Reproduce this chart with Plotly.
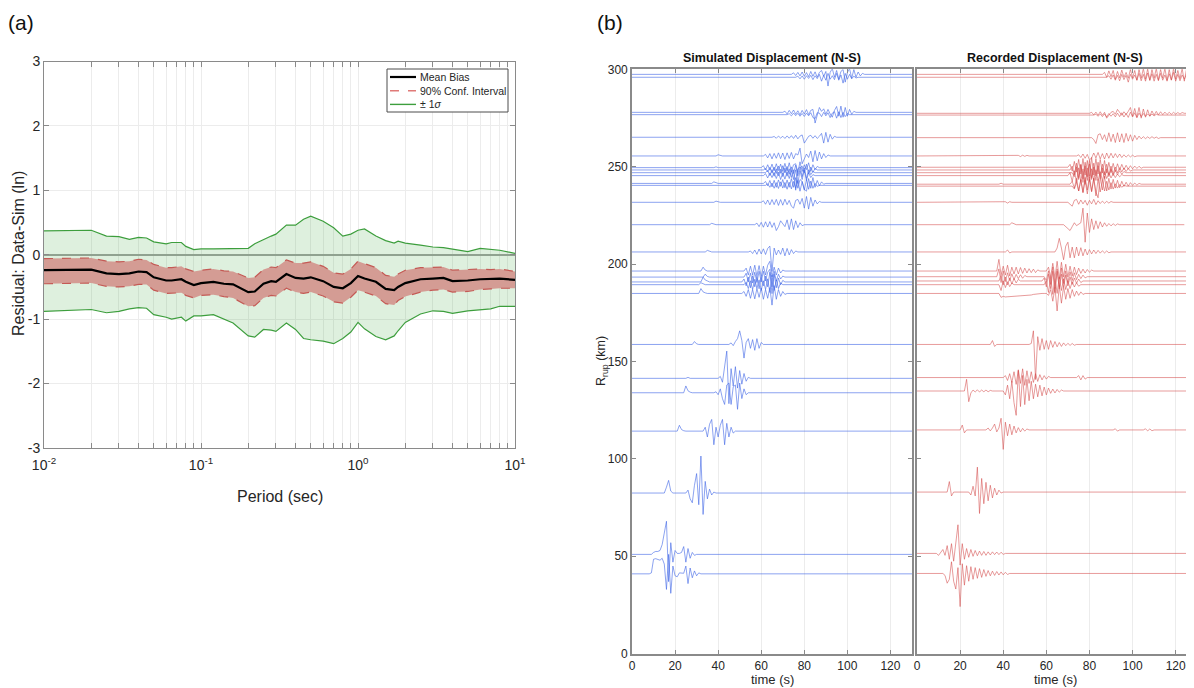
import plotly.graph_objects as go

# ---------------- Panel (a) data ----------------
period = [0.01, 0.02, 0.025, 0.03, 0.035, 0.04, 0.045, 0.05, 0.06, 0.065, 0.075, 0.08, 0.09, 0.1,
          0.12, 0.14, 0.16, 0.2, 0.22, 0.25, 0.28, 0.3, 0.35, 0.4, 0.45, 0.5, 0.6, 0.7, 0.8, 0.9,
          1.0, 1.1, 1.3, 1.5, 1.7, 1.8, 2.0, 2.5, 3.0, 3.5, 4.0, 5.0, 6.0, 7.0, 8.0, 10.0]
mean_bias = [-0.24, -0.23, -0.29, -0.30, -0.29, -0.26, -0.27, -0.35, -0.40, -0.40, -0.38, -0.42, -0.47, -0.44,
             -0.42, -0.45, -0.46, -0.58, -0.57, -0.45, -0.41, -0.42, -0.30, -0.36, -0.37, -0.35, -0.41, -0.50, -0.52, -0.44,
             -0.33, -0.37, -0.42, -0.53, -0.55, -0.50, -0.44, -0.38, -0.37, -0.36, -0.41, -0.40, -0.38, -0.38, -0.37, -0.39]
ci_hi = [-0.06, -0.05, -0.10, -0.11, -0.10, -0.07, -0.08, -0.15, -0.20, -0.20, -0.18, -0.22, -0.26, -0.24,
         -0.22, -0.25, -0.26, -0.36, -0.35, -0.23, -0.19, -0.20, -0.08, -0.13, -0.13, -0.11, -0.18, -0.28, -0.30, -0.22,
         -0.10, -0.14, -0.20, -0.32, -0.34, -0.30, -0.24, -0.20, -0.19, -0.19, -0.24, -0.23, -0.22, -0.23, -0.22, -0.26]
ci_lo = [-0.45, -0.44, -0.49, -0.50, -0.49, -0.46, -0.46, -0.55, -0.60, -0.60, -0.59, -0.63, -0.67, -0.63,
         -0.62, -0.65, -0.67, -0.80, -0.79, -0.67, -0.63, -0.64, -0.52, -0.58, -0.60, -0.58, -0.64, -0.73, -0.75, -0.66,
         -0.55, -0.58, -0.64, -0.76, -0.78, -0.71, -0.65, -0.58, -0.55, -0.54, -0.58, -0.57, -0.54, -0.53, -0.52, -0.52]
sig_hi = [0.37, 0.38, 0.29, 0.28, 0.24, 0.27, 0.26, 0.20, 0.17, 0.19, 0.19, 0.13, 0.08, 0.09,
          0.09, 0.09, 0.10, 0.10, 0.17, 0.24, 0.29, 0.32, 0.46, 0.46, 0.55, 0.60, 0.52, 0.42, 0.29, 0.32,
          0.38, 0.40, 0.29, 0.22, 0.18, 0.21, 0.18, 0.15, 0.12, 0.11, 0.09, 0.05, 0.10, 0.08, 0.07, 0.02]
sig_lo = [-0.88, -0.85, -0.90, -0.88, -0.84, -0.82, -0.83, -0.93, -0.97, -1.00, -0.97, -1.03, -0.95, -0.95,
          -0.93, -1.00, -1.06, -1.26, -1.28, -1.16, -1.17, -1.19, -1.06, -1.16, -1.30, -1.32, -1.34, -1.38, -1.30, -1.20,
          -1.05, -1.15, -1.27, -1.32, -1.26, -1.18, -1.05, -0.92, -0.87, -0.88, -0.91, -0.87, -0.86, -0.84, -0.80, -0.80]
period_ticks = [0.01, 0.1, 1, 10]
period_ticktext = ["10<sup>-2</sup>", "10<sup>-1</sup>", "10<sup>0</sup>", "10<sup>1</sup>"]
resid_ticks = [-3, -2, -1, 0, 1, 2, 3]
resid_ticktext = ["-3", "-2", "-1", "0", "1", "2", "3"]
legend_labels = ["Mean Bias", "90% Conf. Interval", "± 1<i>σ</i>"]

# ---------------- Panel (b) data ----------------
# each station: rupture distance (km) and segments (start time s, deflections in km at 1 s steps)
sim_rrup = [297.4, 295.9, 277.9, 276.7, 265.1, 255.5, 249.5, 248.3, 246.9, 245.4, 241.4, 240.4, 231.7,
            220.2, 206.2, 196.4, 193.3, 190.8, 189.4, 184.9, 158.7, 141.3, 133.9, 114.2, 82.4, 50.9, 40.9]
sim_segments = [
    [(74, [0, 0.8, -0.6, 1.0, -0.8, 1.2, -1.0, 0.9, -1.2, 1.5, -1.0, 1.3, -1.5, 1.0, 2.0, -1.0, 1.5, -6.0, 1.0, 3.0, -1.5, 2.0, -2.5, 1.5, 2.5, -4.0, 1.0, 3.0, -2.0, 2.5, -1.5, 1.2, -0.8, 0.5, 0])],
    [(76, [0, 0.6, -0.8, 0.7, -1.0, 0.8, -0.6, 1.0, -1.2, 0.8, -0.7, 1.5, -2.0, 1.0, -1.5, 2.0, -1.0, 0.8, -1.2, 2.0, -1.5, 1.2, -3.0, 2.0, -1.0, 1.5, -0.8, 0.6, -0.4, 0])],
    [(70, [0, 0.6, -0.8, 1.0, -0.7, 1.2, -1.0, 0.8, -1.3, 1.0, -0.9, 1.4, -1.2, 1.0, 1.5, -5.5, -2.0, 2.5, 0.5, 1.8, -1.0, 1.5, -0.8, -2.5, 1.0, 3.0, -2.0, 3.2, -2.5, 2.5, -2.0, 1.5, -1.0, 0.5, 0])],
    [(72, [0, 0.5, -0.6, 0.8, -0.5, 0.7, -0.8, 0.6, -0.9, 0.8, -0.6, 1.0, -1.5, -2.0, 1.0, 0.8, -1.0, 1.2, -0.6, 1.0, -1.5, 0.8, 1.5, -1.8, 1.5, -1.5, 1.2, -1.0, 0.6, 0])],
    [(65, [0, 0.4, -0.5, 0.6, -0.4, 0.5, -0.6, 0.7, -0.5, 0.8, -0.6, 1.0, -0.8, 0.6, 1.2, -3.0, -1.5, 0.5, 1.0, -0.5, 0.8, -0.6, 0.5, 2.0, -3.0, 2.5, -2.5, 1.5, -1.0, 0.5, 0])],
    [(39, [0, 0.6, 0.3, 0]), (61, [0, 0.8, -1.0, 1.2, -1.5, 1.3, -1.2, 1.6, -1.4, 1.5, -1.8, 1.6, -1.3, 1.8, -1.5, 1.2, 0.5, 4.0, -4.0, -1.5, 1.0, -0.8, 2.5, -3.0, 2.8, -2.5, 2.0, -1.5, 1.2, -0.8, 0.5, 0])],
    [(38, [0, 0.4, 0]), (60, [0, 1.0, -1.2, 1.5, -1.3, 1.8, -1.6, 2.0, -1.5, 1.8, -2.0, 2.2, -1.8, 2.5, -2.0, 1.5, 2.0, -2.5, 3.0, -2.0, 1.5, -1.0, 2.5, -2.0, 1.5, -1.0, 0.6, 0])],
    [(61, [0, 0.8, -1.0, 1.4, -1.6, 1.5, -1.8, 2.0, -1.7, 2.2, -1.5, 1.8, -2.2, 1.6, -1.8, 2.5, -3.0, 1.0, 2.0, -1.5, 3.0, -2.0, 1.5, -1.2, 0.8, 0])],
    [(62, [0, 1.2, -1.5, 1.6, -1.8, 2.0, -1.6, 1.8, -2.0, 2.4, -1.8, 2.0, -2.5, 1.5, -9.0, 2.0, 3.0, -2.0, 2.5, -3.0, 1.5, -1.0, 0.6, 0])],
    [(61, [0, 1.0, -1.2, 1.4, -1.0, 1.6, -1.5, 1.8, -2.0, 1.5, -1.8, 2.0, -1.5, 2.5, -2.0, 3.0, -4.0, 2.5, -2.0, 2.8, -2.5, 1.5, -1.0, 0.5, 0])],
    [(37, [0, 0.8, 0.4, 0]), (61, [0, 1.0, -1.2, 1.5, -1.8, 1.6, -2.0, 1.8, -1.5, 2.0, -2.2, 1.8, -2.0, 2.5, -2.0, 3.0, -2.5, 2.0, 1.0, -3.0, -4.0, 2.5, -2.5, 3.0, -2.0, 1.5, -1.2, 0.8, -0.4, 0])],
    [(62, [0, 0.8, -1.0, 1.2, -1.5, 1.4, -1.6, 1.8, -1.4, 1.5, -2.0, 1.6, -1.8, 2.0, -1.5, 2.5, -3.0, 2.0, -2.5, 3.0, -2.0, 2.2, -1.5, 1.0, -0.5, 0])],
    [(38, [0, 0.6, 0.3, 0]), (60, [0, 0.8, -1.0, 1.2, -1.3, 1.4, -1.2, 1.5, -1.6, 1.4, -1.5, 1.6, -1.2, 1.0, -2.0, -3.0, 1.0, 1.5, -1.0, 2.0, -3.0, 3.0, -3.5, 2.5, -2.0, 1.2, -0.8, 0.4, 0])],
    [(36, [0, 0.7, 0.3, 0]), (57, [0, 0.8, -1.0, 1.2, -1.3, 1.5, -1.2, 1.6, -1.4, 1.0, -3.0, -1.0, 2.0, 0.5, -1.0, 2.5, -2.5, 3.0, -2.5, 2.0, -1.5, 1.0, -0.5, 0])],
    [(34, [0, 0.8, 0.3, 0]), (54, [0, 0.5, -0.8, 1.0, -1.2, 1.5, -1.0, 1.6, -1.3, 1.8, 3.0, -10.0, 2.0, -1.5, 1.0, -1.2, 2.0, -2.0, 1.8, -1.5, 1.2, -0.8, 0.5, 0])],
    [(32, [0, 2.0, 0.5, 0]), (52, [0, 1.5, -2.0, 2.5, -2.0, 3.0, -2.5, 2.8, -3.0, 2.5, -2.0, 3.0, 5.0, -3.0, 2.0, -2.0, 1.5, -1.0, 0.5, 0])],
    [(33, [0, 1.5, 0.3, 0]), (52, [0, 2.0, -2.5, 2.0, -3.0, 2.5, -2.8, 3.0, -2.5, 3.0, -2.0, 2.5, 4.0, -5.0, 3.0, -2.0, 1.5, -1.0, 0.5, 0])],
    [(32, [0, 2.5, 1.0, 0.5, 0]), (51, [0, 1.5, -2.0, 2.5, -3.0, 3.2, -2.5, 3.0, -3.5, 2.5, -2.0, 3.0, -2.5, 5.0, -6.0, 4.0, -3.0, 2.0, -1.5, 0.8, 0])],
    [(31, [0, 1.0, 0.3, 0]), (52, [0, 1.2, -2.0, 2.0, -2.5, 2.8, -2.0, 2.5, -3.0, 2.0, -2.5, 3.0, -4.0, 5.0, -3.0, 2.5, -2.0, 1.0, 0])],
    [(31, [0, 2.5, 0.8, 0.3, 0]), (51, [0, 1.0, -1.5, 2.0, -2.5, 2.0, -2.8, 2.5, -2.0, 2.8, -3.0, 2.0, -2.5, 3.0, -6.0, 4.0, -3.0, 2.0, -1.5, 1.0, -0.5, 0])],
    [(28, [0, 1.5, 0.3, 0]), (45, [0, 0.8, -0.6, 1.5, 3.0, 7.0, 2.0, -7.0, 1.0, 3.0, -2.0, 2.5, -3.0, 3.0, -2.0, 1.0, 0])],
    [(25, [0, 0.5, 0]), (40, [0, 1.0, -2.0, 6.0, 14.0, -13.0, 5.0, -4.0, 6.0, -5.0, 4.0, -3.0, 2.5, -1.5, 0.5, 0])],
    [(24, [0, 3.5, 1.0, 0.3, 0]), (38, [0, 0.5, -1.0, 2.0, -3.0, -6.0, 4.0, 5.0, -6.0, 3.0, 4.0, -8.5, 5.0, -3.0, 2.0, -1.0, 0])],
    [(21, [0, 3.0, 0.8, 0.2, 0]), (33, [0, 2.0, -3.0, 3.5, 6.0, -7.0, 2.0, -3.0, 3.0, 6.0, -7.0, 4.0, -3.0, 2.0, -1.0, 0])],
    [(15, [0, 3.0, 6.5, 1.0, 0]), (25, [0, 1.5, -3.0, -5.0, 4.0, 10.0, -6.0, 19.0, -11.0, 6.0, -3.0, 2.0, -1.0, 0.5, 0])],
    [(9, [0, 1.0, 1.5, 1.5, 2.0, 5.0, 12.0, 17.0, -14.0, 6.0, -4.0, 2.0, 0.5, 0.5, 1.0, 4.0, -4.0, 3.0, -2.0, 1.0, -0.5, 0])],
    [(8, [0, 0.5, 7.5, 7.8, 7.5, 7.0, 8.0, 5.0, -8.0, 10.0, -10.0, 4.0, -1.0, -1.5, 0.5, 0.2, 0.3, 4.0, -5.0, 3.0, -2.0, 1.5, -1.0, 0.5, 0])],
]
sim_tend = [130] * len(sim_rrup)

rec_rrup = [297.4, 295.9, 277.4, 276.5, 264.9, 255.5, 249.7, 248.3, 246.9, 245.4, 241.0, 240.0, 231.7,
            220.2, 206.2, 196.4, 193.5, 191.3, 189.4, 184.9, 158.7, 141.7, 134.8, 114.8, 82.9, 51.4, 41.1]
rec_segments = [
    [(86, [0, 1.0, -1.5, 1.8, -1.2, 2.0, -2.5, 1.5, -1.8, 2.2, -1.5, 1.0, -2.0, 2.5, -1.8, 2.0, -3.0, 2.5, -2.0, 3.0, -2.5, 2.8, -3.0, 2.5, -2.0, 3.0, -2.8, 2.5, -2.0, 3.0, -3.0, 2.5, -2.8, 3.0, -2.5, 2.0, -2.2, 3.0, -3.5, 2.5, -2.0, 1.8, -1.5, 2.0, -1.2])],
    [(88, [0, 0.8, -1.0, 1.2, -1.5, 1.0, -1.8, 1.5, -1.2, 1.0, -2.5, 1.5, -1.0, 1.2, -1.5, 2.0, -1.8, 1.5, -2.0, 2.2, -1.6, 1.8, -2.0, 1.5, -1.8, 2.0, -1.5, 1.2, -2.0, 1.8, -1.5, 2.5, -2.0, 1.5, -1.8, 1.2, -1.0, 1.5, -1.2, 1.0, -0.8, 1.0, -0.6])],
    [(80, [0, 0.5, -0.8, 0.6, -1.0, 0.8, -1.0, 0.5, -2.5, -1.0, 0.5, 1.0, -0.5, 2.0, 0.5, -1.0, 0.8, -0.6, 1.0, 3.0, -1.5, 2.5, -2.0, 3.0, -2.5, 2.2, -2.0, 1.8, -1.5, 1.2, -1.0, 1.0, -0.8, 0.8, -0.7, 0.6, -0.6, 0.5, -0.5, 0.5, -0.4, 0.4, -0.4, 0.4, 0])],
    [(82, [0, 0.4, -0.6, 0.5, -0.8, 0.6, -1.0, 0.8, -0.6, 0.7, -0.9, 1.0, -0.8, 1.2, -1.0, 0.8, -1.2, 1.5, -1.0, 1.2, -1.4, 1.0, -0.8, 0.8, -0.6, 0.6, -0.5, 0.5, -0.4, 0.4, 0])],
    [(81, [0, -1.0, -3.0, 1.5, 2.0, -1.0, 1.5, -2.0, 2.5, -2.0, 1.8, -2.5, 2.5, -2.2, 2.0, -2.5, 2.2, -1.8, 1.5, -1.8, 1.2, -1.0, 0.8, -0.6, 0.5, -0.5, 0.4, -0.4, 0.5, -0.3, 0.3, -0.4, 0])],
    [(46, [0, 0.3, -0.3, 0.4, -0.2, 0.3, 0]), (74, [0, 0.6, -0.8, 1.0, -1.2, 0.8, -2.0, -1.0, 1.5, -1.0, 1.8, -1.5, 1.2, -1.6, 1.5, -1.2, 1.4, -1.0, 1.2, -0.8, 1.0, -0.8, 0.6, -0.6, 0.5, -0.5, 0.4, -0.4, 0])],
    [(70, [0, 1.5, -2.0, 3.0, -2.5, 4.0, -3.5, 4.5, -4.0, 3.5, -4.5, 5.0, -4.0, 4.5, -3.5, 4.0, -3.0, 3.5, -3.0, 2.5, -2.8, 2.0, -2.2, 1.8, -1.5, 1.5, -1.2, 1.0, -1.0, 0.8, -0.8, 0.6, -0.6, 0.5, -0.5, 0])],
    [(71, [0, 2.0, -2.5, 3.5, -4.0, 3.0, -4.5, 4.0, -3.5, 5.0, -4.0, 3.5, -3.0, 4.0, -3.5, 3.0, -2.5, 3.0, -2.5, 2.0, -2.0, 1.5, -1.5, 1.2, -1.0, 1.0, -0.8, 0.8, -0.6, 0])],
    [(72, [0, -2.0, 3.0, -3.5, 4.0, -5.0, 3.5, -4.0, 4.5, -3.5, 3.0, -4.0, 3.5, -3.0, 2.5, -3.0, 2.0, -2.0, 1.8, -1.5, 1.2, -1.0, 1.0, -0.8, 0.6, 0])],
    [(70, [0, 1.5, -3.0, 2.5, -3.5, 4.0, -3.0, 3.5, -4.5, 4.0, -3.0, 3.5, -2.5, 3.0, -2.5, 2.0, -2.5, 2.0, -1.5, 1.5, -1.2, 1.0, -1.0, 0.8, -0.6, 0.5, 0])],
    [(38, [0, 0.5, 0]), (71, [0, 1.5, -2.0, 3.0, -3.5, 2.5, -4.0, 3.5, -3.0, 4.0, -3.5, 3.0, -4.0, -7.0, 3.5, -3.0, 4.0, -3.5, 3.0, -2.5, 2.5, -2.0, 2.0, -1.8, 1.5, -1.2, 1.0, -1.0, 0.8, -0.6, 0.6, -0.5, 0.4, 0])],
    [(72, [0, -1.5, 2.0, -2.5, 3.0, -3.5, 3.0, -4.0, 3.5, -3.0, 4.0, -5.0, 3.5, -3.0, 3.0, -2.5, 2.5, -2.0, 1.8, -1.5, 1.2, -1.0, 0.8, -0.6, 0.5, 0])],
    [(40, [0, 0.3, -0.4, 0.3, 0]), (70, [0, -1.0, -2.0, 1.0, 1.5, -1.0, 1.2, -0.8, 1.0, -1.5, 1.0, -0.8, 1.5, -1.2, 0.8, -0.6, 0.6, -0.5, 0.5, -0.4, 0.4, 0])],
    [(43, [0, 1.0, 0.3, 0]), (68, [0, -1.0, -2.0, -3.0, -1.0, 1.0, -0.5, 0.5, 1.0, 8.5, -9.0, 6.0, -4.0, 3.0, -2.5, 2.0, -2.0, 1.5, -1.2, 1.0, -0.8, 0.6, -0.6, 0.5, -0.4, 0.4, 0])],
    [(41, [0, 1.0, -0.5, 0]), (64, [0, 2.0, 7.0, 2.0, -4.0, 3.0, 5.0, -3.0, 2.5, -3.0, 2.5, -2.0, 2.2, -2.0, 1.5, -1.5, 1.2, -1.0, 1.0, -0.8, 0.8, -0.6, 0.6, -0.5, 0.5, -0.4, 0])],
    [(37, [0, 6.0, -2.0, 2.5, -2.0, 3.0, -2.5, 2.0, -1.5, 2.0, -1.5, 1.8, -1.2, 1.5, -1.0, 1.2, -0.8, 1.0, -0.8, 0.6, 0]), (60, [0, 2.0, -3.0, 4.0, -3.5, 5.0, -4.0, 4.5, -3.0, 3.5, -3.0, 2.5, -2.5, 2.0, -1.8, 1.5, -1.2, 1.0, -1.0, 0.8, -0.6, 0.5, 0])],
    [(37, [0, 4.0, -3.0, 3.0, -2.5, 2.0, -2.0, 1.5, -1.5, 1.2, -1.0, 1.0, -0.8, 0.6, 0]), (59, [0, -2.0, 3.0, -4.0, 5.0, -6.0, 4.0, -5.0, 4.5, -3.5, 3.0, -3.0, 2.5, -2.0, 2.0, -1.5, 1.2, -1.0, 0.8, -0.6, 0])],
    [(38, [0, 3.0, -2.0, 2.0, -2.0, 1.5, -1.5, 1.2, -1.0, 0.8, 0]), (58, [0, 1.5, -3.0, 3.5, -4.0, 5.0, -6.0, 5.0, -4.0, 3.5, -3.0, 3.0, -2.5, 2.0, -1.8, 1.5, -1.2, 1.0, -0.8, 0])],
    [(38, [0, -3.0, 2.0, -1.5, 1.5, -1.0, 0.8, 0]), (59, [0, 2.0, -4.0, 4.0, -5.0, 3.5, -4.5, 4.0, -3.0, 3.0, -2.5, 2.0, -2.0, 1.5, -1.2, 1.0, -0.8, 0])],
    [(38, [0, -2.0, -1.5, -1.8, -1.7, -1.7, -1.6, -1.6, -1.5, -1.5, -1.4, -1.4, -1.3, -1.2, -1.0, -0.8, -0.5, -0.3, -0.1, 0, 0, 0, 0, -1.0, 2.0, -4.0, 3.0, -9.0, 4.0, -5.0, 3.5, -3.0, 2.5, -2.5, 2.0, -1.5, 1.2, -1.0, 0.8, -0.5, 0])],
    [(34, [0, 2.0, -1.0, 0]), (52, [0, 0.5, 7.0, -18.0, 4.0, -3.0, 3.0, -2.5, 2.0, -2.5, 2.0, -1.5, 1.5, -1.2, 1.0, -1.0, 0.8, -0.6, 0.6, -0.5, 0.5, -0.4, 0])],
    [(40, [0, 1.0, -1.5, 2.0, -2.5, 3.0, -3.5, 4.0, -3.0, 4.5, -4.0, 3.5, -3.0, 3.0, -2.5, 2.0, -2.0, 1.5, -1.2, 1.0, -0.8, 0.6, 0]), (74, [0, 1.0, -1.2, 1.0, -0.8, 0])],
    [(22, [0, 6.0, -5.5, -1.0, 0.5, -0.5, 0.6, -0.5, 0.5, -0.4, 0.5, -0.4, 0.3, 0]), (40, [0, -2.0, 3.0, -4.0, 5.0, -6.0, -12.5, 10.5, -8.0, 8.0, -7.0, 6.0, -5.0, 5.0, -4.0, 3.5, -3.0, 3.0, -2.5, 2.0, -2.0, 1.5, -1.2, 1.0, -1.0, 0.8, -0.6, 0.5, 0])],
    [(20, [0, 2.5, -1.5, 0]), (32, [0, 1.0, -0.5, 1.0, 3.0, -1.0, 1.0, 6.0, -10.0, 4.0, -3.0, 3.0, -2.5, 2.0, -1.5, 1.2, -1.0, 0.8, -0.6, 0.5, 0]), (91, [0, 0.6, -0.6, 0]), (105, [0, 0.6, -0.5, 0.5, -0.4, 0])],
    [(14, [0, 5.4, -2.0, 0]), (24, [0, -1.5, 3.0, -2.0, 12.8, -11.0, 7.0, -6.0, 5.0, -4.5, 3.5, -3.0, 2.0, -1.5, 1.0, -0.5, 0])],
    [(9, [0, -1.0, 0.5, 2.0, -1.0, 4.0, -3.0, 5.0, -4.0, 6.0, 14.7, -6.0, 5.0, -3.0, 2.5, -2.0, 2.0, -1.5, 1.5, -1.2, 1.2, -1.0, 1.0, -1.0, 0.8, -0.8, 0.8, -0.6, 0.7, -0.6, 0.6, -0.5, 0])],
    [(12, [0, -1.0, -5.0, -3.0, 6.0, -4.0, -8.0, 3.0, -17.0, 5.0, -6.0, 4.0, -4.0, 3.5, -3.0, 3.0, -2.5, 2.5, -2.0, 2.0, -1.5, 1.5, -1.2, 1.2, -1.0, 1.0, -0.8, 0.8, -0.7, 0.6, -0.5, 0])],
]
rec_tend = [130] * len(rec_rrup)
rec_tend[13] = 124
time_ticks = [0, 20, 40, 60, 80, 100, 120]
rrup_ticks = [0, 50, 100, 150, 200, 250, 300]


def build(rlist, seglist, tends):
    xs, ys = [], []
    for r, segs, tend in zip(rlist, seglist, tends):
        xs.append(0); ys.append(r)
        for t0, amps in segs:
            for i, a in enumerate(amps):
                xs.append(t0 + i); ys.append(r + a)
        xs.append(tend); ys.append(r)
        xs.append(None); ys.append(None)
    return xs, ys


# the page body adds an 8 px offset, so the figure is sized to the remaining window
OFF = 8
W, H = 1194 - OFF, 688 - OFF
def px(x): return (x - OFF) / W
def py(y): return 1 - (y - OFF) / H

FONT = "Liberation Sans, Arial, sans-serif"
TXT = "#262626"
GREEN = "#3d9e3d"
fig = go.Figure()

# ---- panel (a) ----
fig.add_trace(go.Scatter(x=period, y=sig_lo, mode="lines", line=dict(color=GREEN, width=1.2),
                         showlegend=False, xaxis="x", yaxis="y", hoverinfo="skip"))
fig.add_trace(go.Scatter(x=period, y=sig_hi, mode="lines", line=dict(color=GREEN, width=1.2),
                         fill="tonexty", fillcolor="rgba(70,170,70,0.18)", showlegend=False,
                         xaxis="x", yaxis="y", hoverinfo="skip"))
fig.add_trace(go.Scatter(x=period, y=ci_lo, mode="lines", line=dict(color="#c45a55", width=1.2, dash="dash"),
                         showlegend=False, xaxis="x", yaxis="y", hoverinfo="skip"))
fig.add_trace(go.Scatter(x=period, y=ci_hi, mode="lines", line=dict(color="#c45a55", width=1.2, dash="dash"),
                         fill="tonexty", fillcolor="rgb(212,156,148)", showlegend=False,
                         xaxis="x", yaxis="y", hoverinfo="skip"))
fig.add_trace(go.Scatter(x=period, y=mean_bias, mode="lines", line=dict(color="black", width=2.2),
                         showlegend=False, xaxis="x", yaxis="y"))

# ---- panel (b) ----
sx, sy = build(sim_rrup, sim_segments, sim_tend)
rx, ry = build(rec_rrup, rec_segments, rec_tend)
fig.add_trace(go.Scatter(x=sx, y=sy, mode="lines", line=dict(color="rgba(60,100,230,0.7)", width=0.85),
                         showlegend=False, xaxis="x2", yaxis="y2", hoverinfo="skip"))
fig.add_trace(go.Scatter(x=rx, y=ry, mode="lines", line=dict(color="rgba(212,72,72,0.65)", width=0.85),
                         showlegend=False, xaxis="x3", yaxis="y3", hoverinfo="skip"))

minor_vals = [m * 10 ** e for e in (-2, -1, 0) for m in range(1, 10)] + [10]
minor_text = [period_ticktext[period_ticks.index(v)] if v in period_ticks else "" for v in minor_vals]

axis_common = dict(showline=True, linecolor="#8a8a8a", mirror="ticks", ticks="inside",
                   tickcolor="#8a8a8a", tickfont=dict(family=FONT, size=14, color=TXT),
                   gridcolor="#ececec", zeroline=False, automargin=False)
small_font = dict(family=FONT, size=12, color=TXT)

fig.update_layout(
    width=W, height=H, margin=dict(l=0, r=0, t=0, b=0, autoexpand=False),
    paper_bgcolor="white", plot_bgcolor="white", showlegend=False,
    font=dict(family=FONT, color=TXT),
    xaxis=dict(axis_common, type="log", range=[-2, 1], domain=[px(44), px(515)],
               tickvals=minor_vals, ticktext=minor_text, ticklen=5, ticklabelstandoff=4, anchor="y"),
    yaxis=dict(axis_common, range=[-3, 3], tickvals=resid_ticks, ticktext=resid_ticktext,
               domain=[py(448), py(61.5)], ticklen=5,
               zeroline=True, zerolinecolor="#a0a0a0", zerolinewidth=1.5, anchor="x"),
    xaxis2=dict(axis_common, range=[0, 130], domain=[px(632), px(912)], tickvals=time_ticks,
                ticklen=4, linewidth=1.6, tickfont=small_font, anchor="y2"),
    yaxis2=dict(axis_common, range=[0, 300], domain=[py(653.5), py(69.3)], tickvals=rrup_ticks,
                showgrid=False, ticklen=4, linewidth=1.6, tickfont=small_font, anchor="x2"),
    xaxis3=dict(axis_common, range=[0, 128.5], domain=[px(917), 1.0], tickvals=time_ticks,
                ticklen=4, linewidth=1.6, tickfont=small_font, anchor="y3"),
    yaxis3=dict(axis_common, range=[0, 300], domain=[py(653.5), py(69.3)], tickvals=rrup_ticks,
                showgrid=False, showticklabels=False, ticklen=4, linewidth=1.6, anchor="x3"),
)

# ---- legend of panel (a), drawn as a box in page coordinates ----
fig.add_shape(type="rect", xref="paper", yref="paper", x0=px(387), x1=px(508), y0=py(112), y1=py(69),
              line=dict(color="#4d4d4d", width=1), fillcolor="white", layer="above")
leg_styles = [dict(color="black", width=2.2), dict(color="#e07a78", width=1.4, dash="dash"),
              dict(color=GREEN, width=1.4)]
for i, (lab, st) in enumerate(zip(legend_labels, leg_styles)):
    yy = 77 + i * 13.7
    fig.add_shape(type="line", xref="paper", yref="paper", x0=px(390), x1=px(416), y0=py(yy), y1=py(yy),
                  line=st, layer="above")
    fig.add_annotation(text=lab, x=px(418), y=py(yy), xref="paper", yref="paper", xanchor="left",
                       yanchor="middle", showarrow=False, font=dict(family=FONT, size=10.5, color=TXT))

ann = [
    dict(text="(a)", x=px(21), y=py(22), size=21),
    dict(text="(b)", x=px(610), y=py(22), size=21),
    dict(text="Residual: Data-Sim (ln)", x=px(18), y=py(254), size=16, angle=-90),
    dict(text="Period (sec)", x=px(280), y=py(496), size=16),
    dict(text="<b>Simulated Displacement (N-S)</b>", x=px(772), y=py(58), size=12.5),
    dict(text="<b>Recorded Displacement (N-S)</b>", x=px(1055), y=py(58), size=12.5),
    dict(text="R<sub>rup</sub> (km)", x=px(602), y=py(361), size=12.5, angle=-90),
    dict(text="time (s)", x=px(772), y=py(679), size=13),
    dict(text="time (s)", x=px(1055), y=py(679), size=13),
]
for a in ann:
    fig.add_annotation(text=a["text"], x=a["x"], y=a["y"], xref="paper", yref="paper",
                       xanchor="center", yanchor="middle", showarrow=False,
                       textangle=a.get("angle", 0),
                       font=dict(family=FONT, size=a["size"],
                                 color="#111" if a["text"].startswith("(") or "<b>" in a["text"] else TXT))

fig.write_html("out.html")
